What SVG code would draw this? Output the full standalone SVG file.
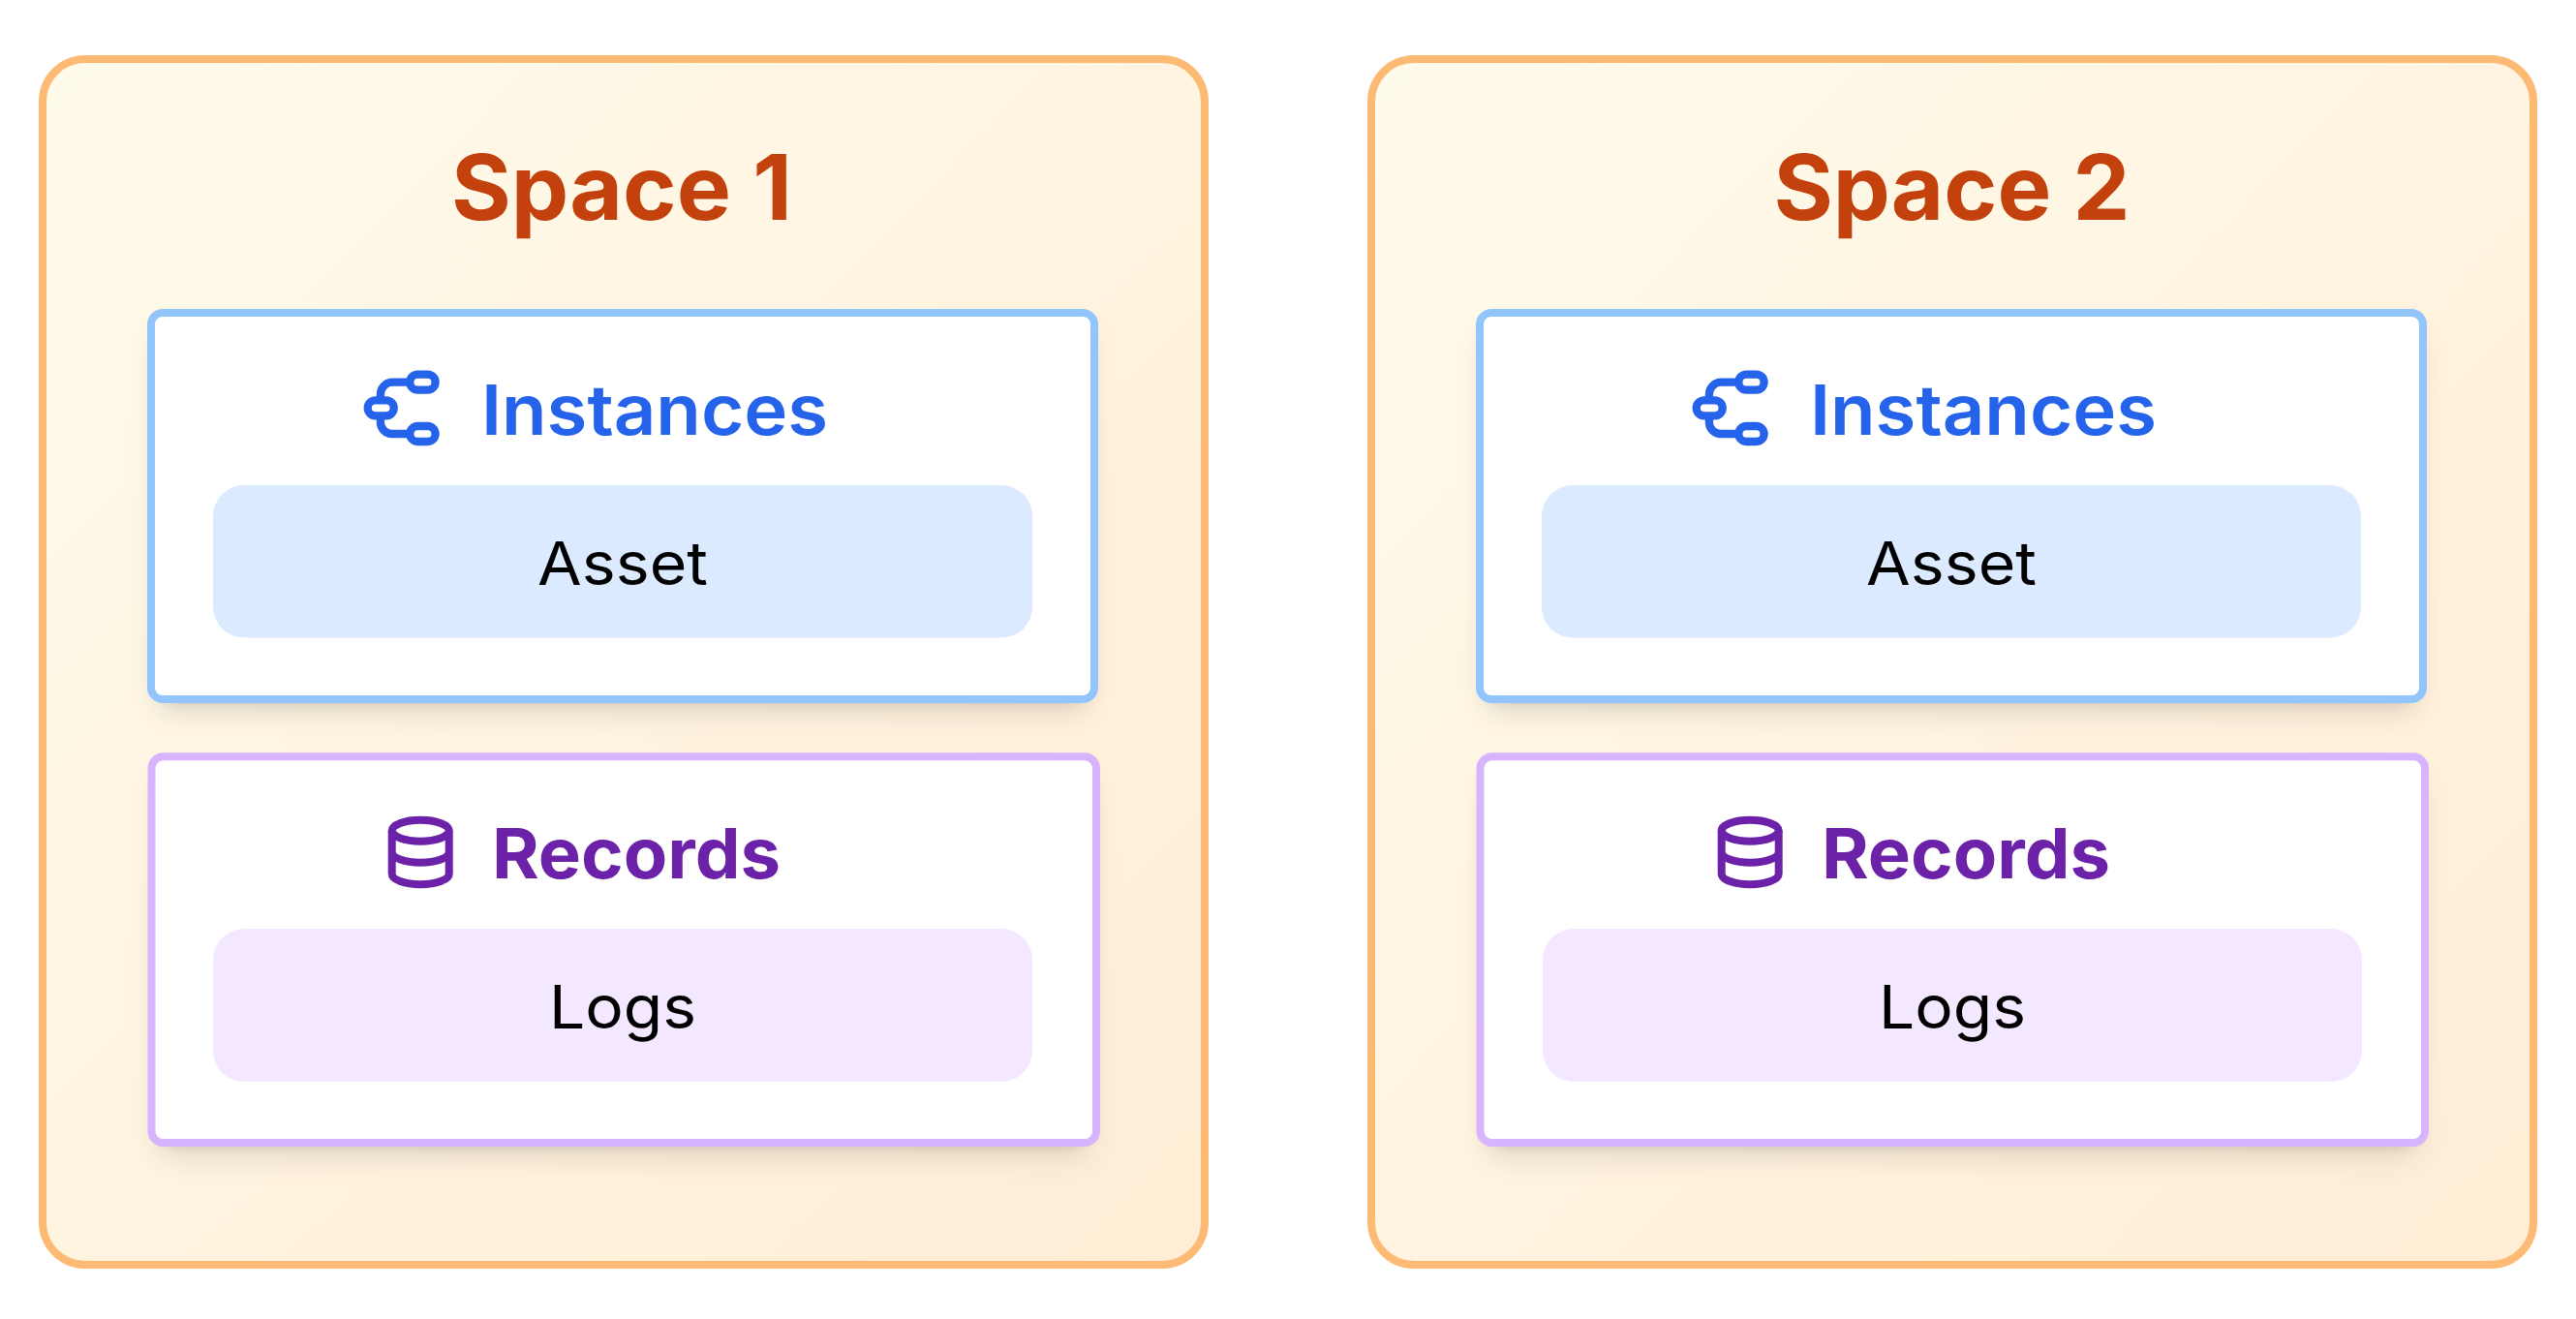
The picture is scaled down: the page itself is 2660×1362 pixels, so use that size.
<svg xmlns="http://www.w3.org/2000/svg" width="2660" height="1362" viewBox="0 0 2660 1362">
<style>
text{text-anchor:middle;font-family:"Inter","Liberation Sans",sans-serif}
.space{stroke:#FDBA74;stroke-width:8;fill:url(#g)}
.title{font-size:93px;font-weight:700;fill:#C2410C}
.head{font-size:72px;font-weight:600}
.bold{font-weight:700}
.item{font-size:62px;font-weight:400;fill:#000}
.inst{fill:#fff;stroke:#93C5FD;stroke-width:8}
.rec{fill:#fff;stroke:#D8B4FE;stroke-width:8}
.s1{fill:#000;fill-opacity:.12;filter:url(#b1)}
.s2{fill:#000;fill-opacity:.16;filter:url(#b2)}
.ii{fill:none;stroke:#2563EB;stroke-width:8.300}
.ir{fill:none;stroke:#6B21A8;stroke-width:8}
</style>
<defs>
<linearGradient id="g" x1="0" y1="0" x2="1" y2="1"><stop offset="0" stop-color="#FFFBEB"/><stop offset="1" stop-color="#FFEDD5"/></linearGradient>
<filter id="b1" x="-20%" y="-20%" width="140%" height="150%"><feGaussianBlur stdDeviation="15"/></filter>
<filter id="b2" x="-20%" y="-20%" width="140%" height="150%"><feGaussianBlur stdDeviation="6"/></filter>
<g id="icon-inst" class="ii">
<rect x="423.300" y="386.700" width="26.300" height="16" rx="8"/>
<rect x="379.700" y="413.300" width="27" height="16" rx="8"/>
<rect x="423.300" y="440" width="26.300" height="16" rx="8"/>
<path d="M423.300 394.700H405.400a12.500 12.500 0 0 0-12.500 12.500V413.300M392.900 429.300V436a12 12 0 0 0 12 12H423.300"/>
</g>
<g id="icon-rec" class="ir">
<ellipse cx="434.200" cy="857.700" rx="29.500" ry="11"/>
<path d="M404.700 857.700V902.300C404.700 908.400 417.900 913.300 434.200 913.300S463.700 908.400 463.700 902.300V857.700M404.700 879.700C404.700 885.800 417.900 890.700 434.200 890.700S463.700 885.800 463.700 879.700"/>
</g>
</defs>
<g id="space-1">
<rect class="space" x="44" y="61" width="1200" height="1245" rx="44"/>
<text class="title" x="642" y="227" textLength="352" lengthAdjust="spacingAndGlyphs">Space 1</text>
</g>
<g id="instances-1">
<rect class="s1" x="162" y="343" width="962" height="393" rx="16"/>
<rect class="s2" x="164" y="335" width="958" height="389" rx="16"/>
<rect class="inst" x="156" y="323" width="974" height="399" rx="12"/>
<use href="#icon-inst"/>
<text class="head" x="676" y="449" fill="#2563EB" textLength="358" lengthAdjust="spacingAndGlyphs">Instances</text>
</g>
<g id="asset-1">
<rect x="220" y="501" width="846" height="157.500" rx="32" fill="#DBEAFE"/>
<text class="item" x="643" y="604" textLength="176" lengthAdjust="spacingAndGlyphs">Asset</text>
</g>
<g id="records-1">
<rect class="s1" x="163" y="801" width="962" height="393" rx="16"/>
<rect class="s2" x="165" y="793" width="958" height="389" rx="16"/>
<rect class="rec" x="156.500" y="781.300" width="975.500" height="398.700" rx="12"/>
<use href="#icon-rec"/>
<text class="head bold" x="657" y="907" fill="#6B21A8" textLength="298" lengthAdjust="spacingAndGlyphs">Records</text>
</g>
<g id="logs-1">
<rect x="220" y="959" width="846" height="158" rx="32" fill="#F3E8FF"/>
<text class="item" x="643" y="1062" textLength="152" lengthAdjust="spacingAndGlyphs">Logs</text>
</g>
<g id="space-2">
<rect class="space" x="1416" y="61" width="1200" height="1245" rx="44"/>
<text class="title" x="2015.500" y="227" textLength="368" lengthAdjust="spacingAndGlyphs">Space 2</text>
</g>
<g id="instances-2">
<rect class="s1" x="1534" y="343" width="962" height="393" rx="16"/>
<rect class="s2" x="1536" y="335" width="958" height="389" rx="16"/>
<rect class="inst" x="1528" y="323" width="974" height="399" rx="12"/>
<use href="#icon-inst" x="1372"/>
<text class="head" x="2048" y="449" fill="#2563EB" textLength="358" lengthAdjust="spacingAndGlyphs">Instances</text>
</g>
<g id="asset-2">
<rect x="1592" y="501" width="846" height="157.500" rx="32" fill="#DBEAFE"/>
<text class="item" x="2015" y="604" textLength="176" lengthAdjust="spacingAndGlyphs">Asset</text>
</g>
<g id="records-2">
<rect class="s1" x="1535" y="801" width="962" height="393" rx="16"/>
<rect class="s2" x="1537" y="793" width="958" height="389" rx="16"/>
<rect class="rec" x="1528.500" y="781.300" width="975.500" height="398.700" rx="12"/>
<use href="#icon-rec" x="1373"/>
<text class="head bold" x="2030" y="907" fill="#6B21A8" textLength="298" lengthAdjust="spacingAndGlyphs">Records</text>
</g>
<g id="logs-2">
<rect x="1593" y="959" width="846" height="158" rx="32" fill="#F3E8FF"/>
<text class="item" x="2016" y="1062" textLength="152" lengthAdjust="spacingAndGlyphs">Logs</text>
</g>
</svg>
